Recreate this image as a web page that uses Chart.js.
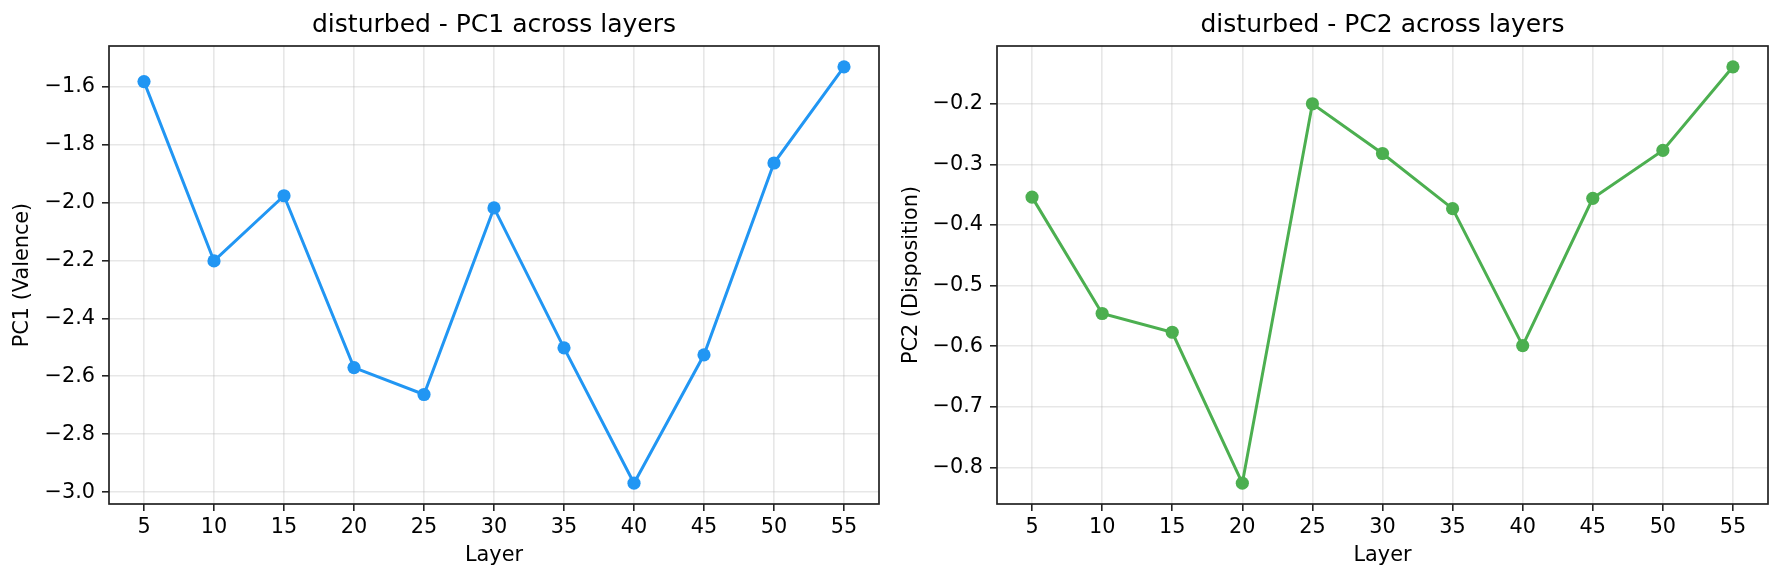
<!DOCTYPE html>
<html>
<head>
<meta charset="utf-8">
<title>disturbed - PC1 / PC2 across layers</title>
<script src="https://cdn.jsdelivr.net/npm/chart.js@4.4.1/dist/chart.umd.min.js"></script>
<style>
  html, body { margin: 0; padding: 0; background: #ffffff; }
  #wrap { position: relative; width: 1784px; height: 581px; }
  canvas { position: absolute; top: 0; }
  #pc1Chart { left: 0; }
  #pc2Chart { left: 892px; }
</style>
</head>
<body>
<div id="wrap">
  <canvas id="pc1Chart" width="892" height="581"></canvas>
  <canvas id="pc2Chart" width="892" height="581"></canvas>
</div>
<script>
const layers = [5, 10, 15, 20, 25, 30, 35, 40, 45, 50, 55];
const pc1Values = [-1.583, -2.202, -1.977, -2.570, -2.663, -2.019, -2.502, -2.969, -2.526, -1.864, -1.532];
const pc2Values = [-0.354, -0.546, -0.577, -0.826, -0.200, -0.282, -0.373, -0.599, -0.356, -0.277, -0.139];
const xTicks = [5, 10, 15, 20, 25, 30, 35, 40, 45, 50, 55];
const pc1Ticks = [-3.0, -2.8, -2.6, -2.4, -2.2, -2.0, -1.8, -1.6];
const pc2Ticks = [-0.8, -0.7, -0.6, -0.5, -0.4, -0.3, -0.2];

const FONT = "'DejaVu Sans', 'Liberation Sans', sans-serif";
const INK = "#222222";
const GRID = "rgba(176, 176, 176, 0.3)";

// matplotlib-style 5% padding around the data
function paddedRange(values) {
    const lo = Math.min(...values);
    const hi = Math.max(...values);
    const pad = (hi - lo) * 0.05;
    return { min: lo - pad, max: hi + pad };
}

function minusLabel(v) {
    const s = Math.abs(v).toFixed(1);
    return v < 0 ? "\u2212" + s : s;
}

// draws the full box around the plot area
const frame = {
    id: "frame",
    afterDraw(chart) {
        const a = chart.chartArea;
        const ctx = chart.ctx;
        ctx.save();
        ctx.strokeStyle = INK;
        ctx.lineWidth = 1.7;
        ctx.strokeRect(a.left, a.top, a.right - a.left, a.bottom - a.top);
        ctx.restore();
    }
};

function makePanel(canvasId, values, color, titleText, yLabel, yTicks, axisWidth, padRight, yTitlePad) {
    const yRange = paddedRange(values);
    const xRange = paddedRange(layers);
    return new Chart(document.getElementById(canvasId), {
        type: "line",
        data: {
            datasets: [{
                label: yLabel,
                data: layers.map((l, i) => ({ x: l, y: values[i] })),
                borderColor: color,
                backgroundColor: color,
                pointBackgroundColor: color,
                pointBorderWidth: 0,
                pointRadius: 6.6,
                borderWidth: 3,
                tension: 0,
                clip: false
            }]
        },
        options: {
            responsive: false,
            animation: false,
            events: [],
            layout: {
                padding: { left: 0, right: padRight, top: 0, bottom: 0 }
            },
            plugins: {
                legend: { display: false },
                tooltip: { enabled: false },
                title: {
                    display: true,
                    text: titleText,
                    fullSize: false,
                    color: "#000",
                    font: { family: FONT, size: 25, weight: "normal", lineHeight: 1.2 },
                    padding: { top: 10, bottom: 6 }
                }
            },
            scales: {
                x: {
                    type: "linear",
                    min: xRange.min,
                    max: xRange.max,
                    afterBuildTicks: (scale) => {
                        scale.ticks = xTicks.map(v => ({ value: v }));
                    },
                    afterFit: (scale) => {
                        scale.height = 77;
                    },
                    ticks: {
                        color: "#000",
                        padding: 4,
                        maxRotation: 0,
                        autoSkip: false,
                        font: { family: FONT, size: 20.8 },
                        callback: (v) => String(v)
                    },
                    grid: {
                        color: GRID,
                        lineWidth: 1.6,
                        drawTicks: true,
                        tickLength: 7,
                        tickColor: INK,
                        tickWidth: 1.6
                    },
                    border: { display: false },
                    title: {
                        display: true,
                        text: "Layer",
                        color: "#000",
                        font: { family: FONT, size: 20.8, lineHeight: 1.2 },
                        padding: { top: 0, bottom: 13 }
                    }
                },
                y: {
                    type: "linear",
                    min: yRange.min,
                    max: yRange.max,
                    afterBuildTicks: (scale) => {
                        scale.ticks = yTicks.map(v => ({ value: v }));
                    },
                    afterFit: (scale) => {
                        scale.width = axisWidth;
                    },
                    ticks: {
                        color: "#000",
                        padding: 7,
                        autoSkip: false,
                        font: { family: FONT, size: 20.8 },
                        callback: (v) => minusLabel(v)
                    },
                    grid: {
                        color: GRID,
                        lineWidth: 1.6,
                        drawTicks: true,
                        tickLength: 7,
                        tickColor: INK,
                        tickWidth: 1.6
                    },
                    border: { display: false },
                    title: {
                        display: true,
                        text: yLabel,
                        color: "#000",
                        font: { family: FONT, size: 20.8, lineHeight: 1.2 },
                        padding: { top: yTitlePad, bottom: 0 }
                    }
                }
            }
        },
        plugins: [frame]
    });
}

const pc1Chart = makePanel("pc1Chart", pc1Values, "#2196F3",
    "disturbed - PC1 across layers", "PC1 (Valence)", pc1Ticks, 109, 13, 10);

const pc2Chart = makePanel("pc2Chart", pc2Values, "#4CAF50",
    "disturbed - PC2 across layers", "PC2 (Disposition)", pc2Ticks, 105, 16, 7);
</script>
</body>
</html>
